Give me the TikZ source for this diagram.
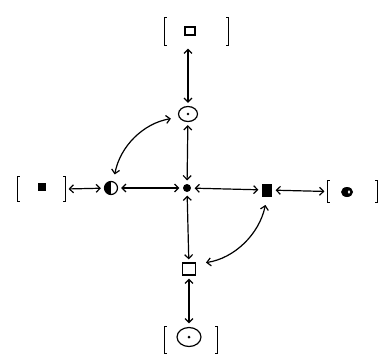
\documentclass[tikz,border=0pt]{standalone}
\usetikzlibrary{arrows.meta,shapes.geometric}

\tikzset{every picture/.style={line width=1.2pt}}
\tikzset{
    link/.style={<->, >={Straight Barb[length=4pt,width=8pt]}, shorten <=3pt, shorten >=3pt},
    grp/.style={inner sep=0pt},
    odotnode/.style={ellipse, draw, inner sep=0pt},
    sqnode/.style={rectangle, draw, inner sep=0pt},
}

\begin{document}
\begin{tikzpicture}[x=1pt,y=-1pt]
    \useasboundingbox (0,0) rectangle (382,362);
    \node[grp, minimum width=63, minimum height=27] (tg) at (196.5,31.5) {};
    \node[grp, minimum width=47, minimum height=24] (lg) at (41.5,189) {};
    \node[grp, minimum width=49, minimum height=21] (rg) at (352.5,191.5) {};
    \node[grp, minimum width=52, minimum height=26] (bg) at (191,340) {};
    \foreach \g in {tg,lg,rg,bg} {
        \draw ([xshift=2.5pt]\g.north west) -- (\g.north west) -- (\g.south west) -- ([xshift=2.5pt]\g.south west);
        \draw ([xshift=-2.5pt]\g.north east) -- (\g.north east) -- (\g.south east) -- ([xshift=-2.5pt]\g.south east);
    }
    \node[sqnode, minimum width=10, minimum height=8] (tsq) at (190,31) {};
    \node[rectangle, fill, inner sep=0pt, minimum size=8] (lsq) at (42,187) {};
    \node[ellipse, fill, inner sep=0pt, minimum width=12, minimum height=10,
        path picture={\fill[white] ([xshift=2pt]path picture bounding box.center) ellipse (1.2pt and 1.8pt);}] (rdot) at (347,192) {};
    \node[odotnode, minimum width=24, minimum height=19] (bcirc) at (189,337) {};
    \fill (bcirc.center) circle (1.5);

    \node[odotnode, minimum width=19, minimum height=15] (odot) at (188,114) {};
    \fill (odot.center) circle (1.4);
    \node[circle, fill, inner sep=0pt, minimum size=8] (cdot) at (187,188) {};
    \node[circle, draw, inner sep=0pt, minimum width=13,
        path picture={\fill (path picture bounding box.south west) rectangle (path picture bounding box.north);}] (half) at (111,188) {};
    \node[rectangle, fill, inner sep=0pt, minimum width=10, minimum height=13] (rsq) at (267,190) {};
    \node[sqnode, minimum width=13, minimum height=12] (bsq) at (189,269) {};

    \draw[link] (tg.south -| odot) -- (odot);
    \draw[link] (odot) -- (cdot);
    \draw[link] (cdot) -- (bsq);
    \draw[link] (bsq) -- (bg.north -| bsq);
    \draw[link] (lg.east) -- (half);
    \draw[link] (half) -- (cdot);
    \draw[link] (cdot) -- (rsq);
    \draw[link] (rsq) -- (rg.west);
    \draw[link, shorten <=8pt, shorten >=7pt] (odot.200) to[bend right=35] (half.70);
    \draw[link, shorten <=8pt, shorten >=10pt] (rsq.south) to[bend left=35] (bsq.35);
\end{tikzpicture}
\end{document}
